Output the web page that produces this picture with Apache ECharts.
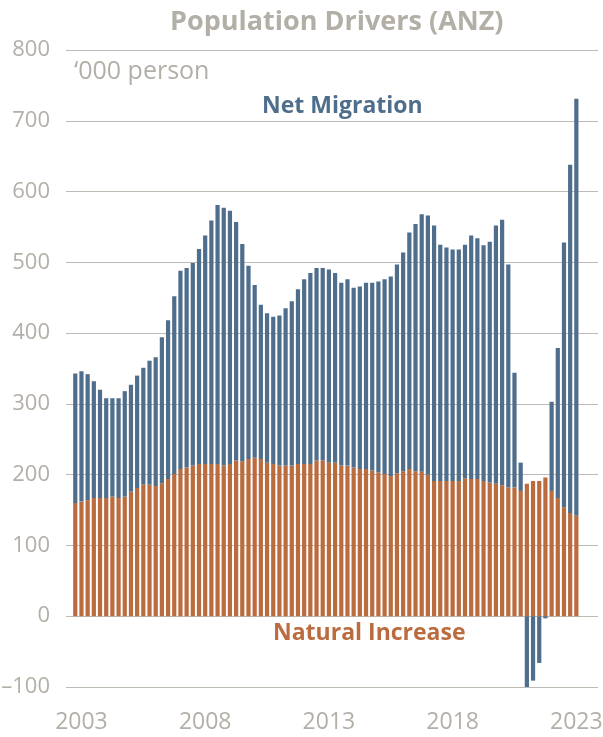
<!DOCTYPE html>
<html>
<head>
<meta charset="utf-8">
<title>Population Drivers (ANZ)</title>
<script src="https://cdn.jsdelivr.net/npm/echarts@6/dist/echarts.min.js"></script>
<style>
  html, body { margin: 0; padding: 0; background: #ffffff; }
  #chart { width: 603px; height: 737px; }
</style>
</head>
<body>
<div id="chart"></div>
<script>
// quarters, Dec-2002 .. Mar-2023
const quarters = [
  "2002 Q4",
  "2003 Q1", "2003 Q2", "2003 Q3", "2003 Q4",
  "2004 Q1", "2004 Q2", "2004 Q3", "2004 Q4",
  "2005 Q1", "2005 Q2", "2005 Q3", "2005 Q4",
  "2006 Q1", "2006 Q2", "2006 Q3", "2006 Q4",
  "2007 Q1", "2007 Q2", "2007 Q3", "2007 Q4",
  "2008 Q1", "2008 Q2", "2008 Q3", "2008 Q4",
  "2009 Q1", "2009 Q2", "2009 Q3", "2009 Q4",
  "2010 Q1", "2010 Q2", "2010 Q3", "2010 Q4",
  "2011 Q1", "2011 Q2", "2011 Q3", "2011 Q4",
  "2012 Q1", "2012 Q2", "2012 Q3", "2012 Q4",
  "2013 Q1", "2013 Q2", "2013 Q3", "2013 Q4",
  "2014 Q1", "2014 Q2", "2014 Q3", "2014 Q4",
  "2015 Q1", "2015 Q2", "2015 Q3", "2015 Q4",
  "2016 Q1", "2016 Q2", "2016 Q3", "2016 Q4",
  "2017 Q1", "2017 Q2", "2017 Q3", "2017 Q4",
  "2018 Q1", "2018 Q2", "2018 Q3", "2018 Q4",
  "2019 Q1", "2019 Q2", "2019 Q3", "2019 Q4",
  "2020 Q1", "2020 Q2", "2020 Q3", "2020 Q4",
  "2021 Q1", "2021 Q2", "2021 Q3", "2021 Q4",
  "2022 Q1", "2022 Q2", "2022 Q3", "2022 Q4",
  "2023 Q1",
];

// '000 persons, annual
const naturalIncrease = [
  160, 162, 164, 167, 167, 167, 169, 167, 169, 176,
  181, 186, 186, 184, 188, 194, 201, 208, 210, 213,
  215, 215, 215, 215, 213, 215, 220, 219, 222, 224,
  222, 217, 215, 213, 213, 213, 215, 215, 215, 220,
  220, 217, 217, 213, 213, 210, 208, 208, 206, 203,
  201, 198, 202, 205, 208, 205, 204, 200, 191, 191,
  191, 191, 191, 195, 194, 194, 191, 189, 187, 185,
  182, 182, 177, 187, 191, 191, 196, 177, 167, 154,
  146, 142,
];

const netMigration = [
  183, 184, 178, 165, 153, 141, 139, 141, 149, 151,
  159, 165, 175, 182, 206, 224, 251, 280, 282, 286,
  304, 323, 344, 366, 364, 358, 337, 307, 273, 244,
  218, 211, 208, 212, 222, 232, 247, 261, 270, 272,
  272, 273, 268, 258, 263, 254, 258, 263, 265, 270,
  275, 282, 295, 309, 334, 349, 364, 366, 361, 334,
  330, 327, 327, 330, 344, 340, 333, 340, 365, 375,
  315, 162, 40, -100, -91, -66, -3, 126, 212, 374,
  492, 589,
];

const yTicks = { min: -100, max: 800, step: 100 };
const yearLabelEvery = 20; // quarters between year labels

const grey = "#b3afa7";
const blue = "#4f6e8c";
const orange = "#ba6c3f";
const fontFamily = "'Open Sans', 'Noto Sans', sans-serif";

// the source axis runs a little past the data at both ends
const padStart = 1;
const padEnd = 3;
const pad = (arr, fill) =>
  Array(padStart).fill(fill).concat(arr, Array(padEnd).fill(fill));

const chartInstance = echarts.init(document.getElementById("chart"), null, { renderer: "canvas" });

const chartOpt = {
  backgroundColor: "#ffffff",
  animation: false,
  textStyle: { fontFamily: fontFamily },
  title: {
    text: "Population Drivers (ANZ)",
    left: 165,
    top: 4,
    textStyle: { color: grey, fontSize: 27, fontWeight: "bold", fontFamily: fontFamily },
  },
  grid: {
    left: 66,
    right: 5,
    top: 50,
    bottom: 50,
    containLabel: false,
    outerBoundsMode: "none",
  },
  xAxis: {
    type: "category",
    data: pad(quarters, ""),
    axisLine: { show: false, onZero: false },
    axisTick: { show: false },
    axisLabel: {
      color: grey,
      fontSize: 23,
      margin: 24,
      hideOverlap: false,
      interval: (index, value) => value !== "" && (index - padStart - 1) % yearLabelEvery === 0,
      formatter: (value) => value.slice(0, 4),
    },
    splitLine: { show: false },
  },
  yAxis: {
    type: "value",
    min: yTicks.min,
    max: yTicks.max,
    interval: yTicks.step,
    axisLine: { show: false },
    axisTick: { show: false },
    axisLabel: {
      color: grey,
      fontSize: 22,
      margin: 16,
      formatter: (v) => (v < 0 ? "\u2013" + Math.abs(v) : String(v)),
    },
    splitLine: { lineStyle: { color: "#bdbab4", width: 1 } },
  },
  series: [
    {
      name: "Natural Increase",
      type: "bar",
      stack: "total",
      data: pad(naturalIncrease, null),
      barCategoryGap: "32%",
      itemStyle: { color: orange },
    },
    {
      name: "Net Migration",
      type: "bar",
      stack: "total",
      data: pad(netMigration, null),
      barCategoryGap: "32%",
      itemStyle: { color: blue },
    },
  ],
  graphic: [
    {
      type: "text",
      left: 74,
      top: 59,
      style: { text: "\u2018000 person", fill: grey, fontSize: 25, fontFamily: fontFamily },
    },
    {
      type: "text",
      left: 262,
      top: 95,
      style: { text: "Net Migration", fill: blue, fontSize: 23, fontWeight: "bold", fontFamily: fontFamily },
    },
    {
      type: "text",
      left: 273,
      top: 622,
      style: { text: "Natural Increase", fill: orange, fontSize: 23, fontWeight: "bold", fontFamily: fontFamily },
    },
  ],
};

chartInstance.setOption(chartOpt);
</script>
</body>
</html>
